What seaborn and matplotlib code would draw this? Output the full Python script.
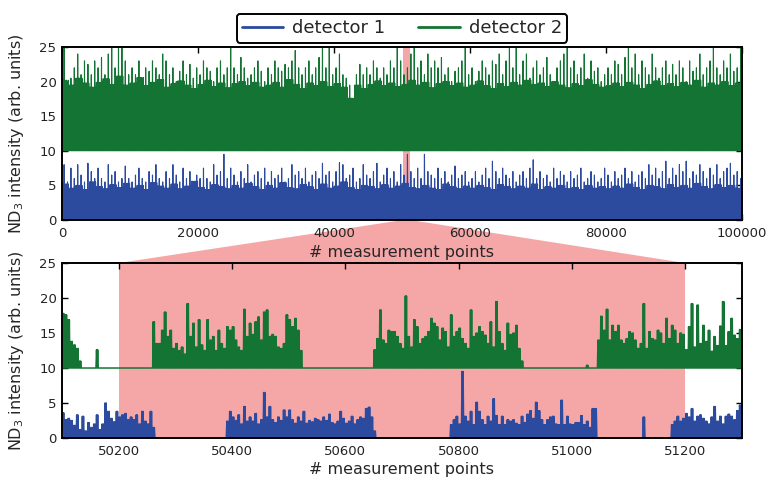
import matplotlib
matplotlib.use("Agg")
import matplotlib.pyplot as plt
from matplotlib.patches import Polygon
import pandas as pd
import seaborn as sns

# ---------------- full run (0 .. 100000 points) ----------------
# tallest spike inside each 500-point block
block = 500
d2_block_peak = [
    25, 20, 20.5, 22, 24, 21, 23, 22.5, 21, 23,
    22, 23.5, 21, 24, 25, 22, 25, 25, 23, 21,
    22, 21, 23, 20.5, 22, 21.5, 23, 22, 21, 24,
    23, 21, 22, 20, 21.5, 23, 21, 22.5, 20.5, 22,
    21, 23, 22, 21.5, 20, 22, 23, 21, 22, 25,
    22, 21, 23.5, 22, 20.5, 21, 22, 23, 21.5, 20,
    22, 21, 23, 22, 21.5, 22.5, 22, 23, 24.5, 22,
    21, 22, 23, 21, 22, 23.5, 25, 22, 25, 21,
    22, 24, 21, 20.5, 19.5, 17.5, 21, 22.5, 21, 22,
    21, 23, 22, 20.5, 22, 21, 23, 22, 25, 23,
    21, 22, 24, 25, 22, 23, 21, 24, 22, 23,
    22, 23.5, 21, 22, 20, 21.5, 22, 23, 25, 21,
    22, 20, 21.5, 23, 22, 21, 23, 22.5, 24, 21,
    23, 25, 22, 25, 21, 23, 24, 20.5, 22, 23,
    21, 22, 23.5, 21, 20, 22, 23, 24, 25, 22,
    23, 21, 22, 24, 20.5, 23, 21.5, 22, 20, 21,
    22, 21, 23, 22.5, 21, 23.5, 25, 22, 24, 21,
    23, 22, 21, 24, 22, 20.5, 22, 23, 21, 22.5,
    21, 23, 22, 20, 23, 21.5, 22, 24, 21, 22,
    23, 25, 22, 21, 23, 22, 24, 21.5, 22, 25,
]
d1_block_peak = [
    8, 5.5, 7.5, 6, 8, 6.5, 5.5, 8.2, 7, 6,
    7.5, 6, 5.5, 8, 6.5, 7, 5.5, 6, 7.8, 6,
    5.5, 6.5, 7.5, 6, 5.5, 7, 6.5, 8, 6, 5.5,
    7, 6, 8, 6.5, 5.5, 7.5, 6, 7, 5.5, 6.5,
    6, 7.5, 6, 5.5, 8, 6.5, 7, 9.5, 6, 7.5,
    6.5, 5.5, 7, 6, 8, 5.5, 6.5, 7, 6, 7.5,
    5.5, 7, 6, 6.5, 7.5, 5.5, 6, 8, 6.5, 7,
    6, 7.5, 5.5, 6.5, 7, 6, 8.2, 6.5, 7, 5.5,
    7, 8.3, 8, 6, 6.5, 7.5, 5.5, 6, 8, 6.5,
    6, 7, 8.2, 5.5, 6.5, 7.5, 6, 7, 5.5, 8,
    6.5, 9.5, 7, 6, 7.5, 6, 9.5, 7, 6.5, 6,
    7.5, 6, 7, 5.5, 6.5, 7.8, 6, 6.5, 7, 5.5,
    6, 7, 5.5, 6.5, 7.5, 6, 8.5, 7, 6, 7.5,
    6.5, 6, 7, 5.5, 6.5, 7, 6, 7.5, 8.7, 6,
    7, 6, 6.5, 5.5, 7.5, 6, 7, 6.5, 5.5, 7,
    6, 6.5, 7.5, 5.5, 6, 7, 6.5, 5.5, 6, 7.5,
    6.5, 5.5, 7, 6, 6.5, 7.5, 6, 7, 5.5, 6.5,
    7, 6, 8, 6.5, 7.5, 6, 7, 8.5, 6, 7.5,
    6.5, 8, 7, 8.5, 6, 7, 6.5, 8, 7, 6,
    7.5, 6.5, 8, 6, 7, 7.5, 8.2, 6.5, 7, 6,
]
# level up to which the trace is dense, per 1000 points
d2_dense_level = [
    20.2, 19.5, 20.5, 19.8, 19.2, 19.9, 20.4, 19.6, 20.8, 19.5,
    19.8, 20.6, 19.4, 19.9, 20.3, 19.2, 19.7, 20.1, 19.5, 19.0,
    19.6, 20.2, 19.3, 19.8, 19.1, 19.7, 20.0, 19.4, 19.9, 19.2,
    19.5, 19.9, 19.2, 20.3, 19.6, 19.0, 19.8, 19.4, 20.0, 19.3,
    19.7, 19.2, 17.6, 19.5, 19.0, 19.6, 20.1, 19.4, 19.8, 19.3,
    19.6, 20.2, 19.5, 19.9, 19.1, 19.7, 20.0, 19.4, 19.8, 19.2,
    19.5, 20.1, 19.4, 19.0, 19.7, 19.3, 19.9, 19.5, 20.2, 19.6,
    19.8, 19.3, 20.0, 19.5, 19.1, 19.7, 19.4, 20.3, 19.6, 19.2,
    19.4, 19.8, 19.3, 19.9, 19.5, 19.0, 19.6, 20.1, 19.4, 19.7,
    19.3, 19.9, 19.5, 20.2, 19.2, 19.8, 19.5, 20.0, 19.4, 19.8,
]
d1_dense_level = [
    5.2, 4.6, 5.0, 4.4, 5.5, 4.8, 4.5, 5.1, 4.7, 5.3,
    4.6, 5.0, 4.4, 5.4, 4.9, 4.6, 5.2, 4.5, 4.9, 5.6,
    4.7, 4.4, 5.1, 4.8, 4.5, 5.0, 4.6, 5.3, 4.8, 4.4,
    5.0, 4.6, 5.4, 4.7, 4.5, 5.1, 4.8, 4.4, 5.2, 4.6,
    4.9, 5.5, 4.7, 4.4, 5.0, 4.8, 4.5, 5.1, 4.6, 4.9,
    5.3, 4.7, 4.5, 5.0, 4.6, 4.4, 5.2, 4.8, 4.5, 4.9,
    4.6, 5.0, 4.7, 4.4, 5.1, 4.8, 4.5, 4.9, 4.6, 5.2,
    4.4, 4.8, 4.6, 5.0, 4.5, 4.7, 4.4, 5.0, 4.6, 4.8,
    4.5, 4.9, 4.6, 5.2, 4.7, 4.4, 5.0, 4.8, 4.5, 5.1,
    4.7, 5.0, 4.6, 5.3, 4.8, 4.5, 5.1, 4.7, 5.0, 4.6,
]
d1_base, d2_base = 0.0, 10.0

# ---------------- zoomed window (50100 .. 51300) ----------------
zoom_start, zoom_stop = 50100, 51300
group = 5  # points per entry below
d2_zoom_peak = (
    [17.8, 17.6, 16.9, 13.8, 13.3, 12.8, 11.0]
    + [10.0] * 5 + [12.6] + [10.0] * 19
    + [16.6, 13.5, 13.5, 15.4, 18.0, 14.5, 15.4, 12.8, 13.5, 12.5,
       13.0, 12.0, 19.2, 14.5, 16.4, 13.0, 16.9, 13.3, 12.5, 16.9,
       14.0, 14.5, 12.5, 15.4, 13.5, 12.8, 15.9, 15.4, 15.9, 14.0,
       13.0, 12.5, 18.4, 14.5, 16.4, 14.8, 16.6, 17.3, 14.0, 18.0,
       18.3, 14.5, 14.8, 14.5, 13.0, 12.8, 13.5, 17.6, 16.9, 15.9,
       17.1, 15.4, 12.5]
    + [10.0] * 25
    + [12.6, 14.2, 18.3, 14.0, 13.5, 15.4, 15.2, 15.2, 14.5, 13.5,
       12.8, 20.3, 14.5, 13.0, 16.9, 15.9, 13.5, 14.2, 14.5, 15.2,
       17.1, 16.4, 15.9, 14.0, 15.7, 15.2, 13.0, 17.6, 14.5, 15.2,
       15.7, 14.2, 13.5, 12.8, 18.3, 14.5, 15.0, 15.9, 15.2, 14.7,
       13.5, 16.6, 13.0, 19.5, 15.2, 13.5, 12.5, 16.4, 14.8, 15.0,
       16.1, 12.8, 11.0]
    + [10.0] * 22 + [10.4] + [10.0] * 3
    + [14.0, 17.4, 15.4, 18.4, 14.0, 16.1, 15.2, 16.1, 14.0, 13.5,
       14.2, 15.2, 15.0, 14.0, 12.8, 13.5, 19.2, 12.8, 15.2, 14.2,
       14.0, 15.4, 15.0, 13.5, 17.1, 14.2, 16.1, 15.4, 13.5, 15.0,
       14.8, 12.6, 15.9, 19.2, 13.0, 19.0, 13.5, 16.1, 13.8, 15.4,
       12.4, 14.5, 13.2, 16.0, 19.5, 13.2, 15.2, 17.1, 14.7, 14.2,
       15.5]
)
d1_zoom_peak = (
    [3.6, 2.6, 2.8, 2.5, 1.8, 3.3, 1.2, 3.1, 1.0, 2.2,
     1.5, 2.0, 3.3, 1.2, 2.0, 5.0, 3.8, 2.8, 2.3, 3.8,
     3.0, 3.3, 3.5, 2.6, 3.0, 2.6, 3.3, 2.0, 3.8, 2.4,
     2.0, 3.8, 1.5]
    + [0.0] * 25
    + [2.4, 3.8, 3.0, 2.5, 3.3, 2.0, 4.5, 2.4, 3.0, 2.4,
       3.5, 2.0, 2.6, 6.5, 3.0, 4.5, 2.6, 2.2, 3.0, 2.5,
       4.0, 3.0, 4.0, 2.6, 2.1, 3.0, 2.4, 3.8, 2.1, 2.5,
       2.3, 2.8, 2.6, 2.4, 3.0, 2.5, 3.4, 2.2, 2.0, 2.4,
       3.8, 2.8, 2.1, 2.4, 3.1, 2.0, 2.6, 3.0, 2.8, 4.2,
       4.4, 3.0, 1.0]
    + [0.0] * 26
    + [1.9, 2.6, 3.1, 2.0, 9.5, 3.1, 2.4, 3.8, 1.9, 5.1,
       3.8, 2.6, 1.9, 3.1, 2.4, 5.6, 3.2, 1.9, 3.1, 1.9,
       2.6, 2.4, 2.6, 2.1, 1.9, 3.1, 2.2, 3.4, 3.9, 2.8,
       5.1, 3.9, 2.6, 1.9, 2.6, 3.0, 3.1, 2.0, 1.9, 5.4,
       1.9, 3.1, 2.0, 1.9, 2.2, 2.2, 3.2, 1.9, 2.4, 1.5,
       4.2, 4.2]
    + [0.0] * 16 + [3.0] + [0.0] * 9
    + [1.9, 2.4, 3.1, 2.4, 2.8, 3.5, 3.0, 4.2, 2.4, 3.1,
       3.3, 2.8, 2.4, 2.0, 3.0, 4.5, 2.4, 3.1, 2.0, 3.1,
       3.4, 3.1, 2.6, 3.9, 4.7]
)

highlight = (50200, 51200)
x_ticks_full = [0, 20000, 40000, 60000, 80000, 100000]
x_ticks_zoom = [50200, 50400, 50600, 50800, 51000, 51200]
y_ticks = [0, 5, 10, 15, 20, 25]

c_det1 = "#2c4a9e"
c_det2 = "#137434"
c_pink = "#f5a7a8"


def full_trace(peaks, levels, base):
    """Trace sweeping between the floor and the dense level, one spike per block."""
    xs, ys = [], []
    per_level = len(peaks) // len(levels)
    for i, p in enumerate(peaks):
        lv = levels[i // per_level]
        sweep = [base, lv, base, lv, base, p, base, lv]
        for k, v in enumerate(sweep):
            xs.append(i * block + k * block / len(sweep))
            ys.append(v)
    return pd.DataFrame({"point": xs, "intensity": ys})


def zoom_trace(peaks, base):
    xs, ys = [], []
    for g, p in enumerate(peaks):
        for k, v in enumerate([base, p, base, p, base]):
            xs.append(zoom_start + g * group + k)
            ys.append(v)
    return pd.DataFrame({"point": xs, "intensity": ys})


sns.set_style("ticks", {"xtick.direction": "in", "ytick.direction": "in",
                        "axes.edgecolor": "black"})
plt.rcParams.update({"xtick.labelsize": 9.5, "ytick.labelsize": 9.5,
                     "axes.labelsize": 11.5, "axes.linewidth": 1.4,
                     "xtick.major.size": 4, "ytick.major.size": 4,
                     "xtick.major.pad": 5, "ytick.major.pad": 4,
                     "xtick.top": True, "ytick.right": True})
plt.rcParams["font.family"] = ["DejaVu Sans"]

fig = plt.figure(figsize=(7.68, 4.8), dpi=100)
ax_full = fig.add_axes([0.0807, 0.5417, 0.8853, 0.3603])
ax_zoom = fig.add_axes([0.0807, 0.0875, 0.8853, 0.3645])

ylabel = r"ND$_3$ intensity (arb. units)"
xlabel = "# measurement points"

# full run
ax_full.axvspan(*highlight, color=c_pink, lw=0, zorder=0)
sns.lineplot(data=full_trace(d1_block_peak, d1_dense_level, d1_base), x="point",
             y="intensity", ax=ax_full, color=c_det1, lw=0.8, estimator=None,
             label="detector 1", zorder=2)
sns.lineplot(data=full_trace(d2_block_peak, d2_dense_level, d2_base), x="point",
             y="intensity", ax=ax_full, color=c_det2, lw=0.8, estimator=None,
             label="detector 2", zorder=2)
ax_full.set_xlim(0, 100000)
ax_full.set_ylim(0, 25)
ax_full.set_xticks(x_ticks_full)
ax_full.set_yticks(y_ticks)
ax_full.set_xlabel(xlabel, labelpad=4)
ax_full.set_ylabel(ylabel)

leg = ax_full.legend(loc="lower center", bbox_to_anchor=(0.5, 1.005), ncol=2,
                     fontsize=13, frameon=True, fancybox=True, framealpha=1,
                     edgecolor="black", handlelength=2.3, handletextpad=0.5,
                     columnspacing=1.8, borderpad=0.3, borderaxespad=0.2)
leg.get_frame().set_linewidth(1.4)
for h in leg.get_lines():
    h.set_linewidth(2.0)

# zoomed window
ax_zoom.axvspan(*highlight, color=c_pink, lw=0, zorder=0)
sns.lineplot(data=zoom_trace(d1_zoom_peak, d1_base), x="point", y="intensity",
             ax=ax_zoom, color=c_det1, lw=1.1, estimator=None, legend=False, zorder=2)
sns.lineplot(data=zoom_trace(d2_zoom_peak, d2_base), x="point", y="intensity",
             ax=ax_zoom, color=c_det2, lw=1.1, estimator=None, legend=False, zorder=2)
ax_zoom.set_xlim(zoom_start, zoom_stop)
ax_zoom.set_ylim(0, 25)
ax_zoom.set_xticks(x_ticks_zoom)
ax_zoom.set_yticks(y_ticks)
ax_zoom.set_xlabel(xlabel, labelpad=3)
ax_zoom.set_ylabel(ylabel)

for ax in (ax_full, ax_zoom):
    ax.yaxis.set_label_coords(-0.053, 0.5)
    ax.tick_params(colors="black", labelcolor="#222222", width=1.0)

# funnel joining the highlighted span to the zoomed window
to_fig = fig.transFigure.inverted()
corners = [
    ax_full.transData.transform((highlight[0], 0)),
    ax_full.transData.transform((highlight[1], 0)),
    ax_zoom.transData.transform((highlight[1], 25)),
    ax_zoom.transData.transform((highlight[0], 25)),
]
funnel = Polygon([to_fig.transform(c) for c in corners], closed=True,
                 transform=fig.transFigure, facecolor=c_pink, edgecolor="none",
                 zorder=-1)
fig.patches.append(funnel)

fig.savefig("out.png", dpi=100)
